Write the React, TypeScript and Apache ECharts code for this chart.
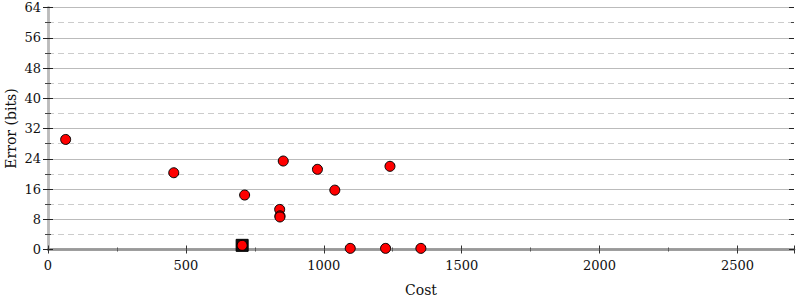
import React, { useEffect, useRef } from "react";
import * as echarts from "echarts";

const costs = [64, 456, 713, 853, 840, 841, 841, 977, 1040, 1240, 1096, 1224, 1352, 704];
const errors = [29.1, 20.3, 14.4, 23.4, 10.6, 8.9, 8.6, 21.2, 15.7, 22.0, 0.3, 0.3, 0.3, 1.1];
const selectedCost = [704];
const selectedError = [1.1];

const X_MAX = 2705;
const Y_MAX = 64;
const FONT = "'DejaVu Serif', serif";

export default function App() {
  const ref = useRef<HTMLDivElement>(null);
  useEffect(() => {
    if (!ref.current) return;
    const chart = echarts.init(ref.current, null, { renderer: "svg" });
    const points = costs.map((c, i) => [c, errors[i]]);
    const sel = selectedCost.map((c, i) => [c, selectedError[i]]);
    const yBase = (position: string, inside: boolean, main: boolean) => ({
      type: "value",
      position,
      min: 0,
      max: Y_MAX,
      interval: 8,
      axisLine: { show: main, lineStyle: { color: "#bbb", width: 2.5 } },
      axisTick: { show: true, inside, length: 5, lineStyle: { color: "#222", width: 1 } },
      minorTick: { show: true, splitNumber: 2, length: 3, lineStyle: { color: "#444", width: 1 } },
      axisLabel: main && position === "left"
        ? { show: true, color: "#111", fontFamily: FONT, fontSize: 13, margin: 7 }
        : { show: false },
      splitLine: main && position === "left"
        ? { show: true, lineStyle: { color: "#bbb", width: 1 } }
        : { show: false },
      minorSplitLine: main && position === "left"
        ? { show: true, lineStyle: { color: "#ccc", width: 1, type: [6, 4] } }
        : { show: false },
      name: main && position === "left" ? "Error (bits)" : "",
      nameLocation: "middle",
      nameGap: 30,
      nameMoveOverlap: false,
      nameTextStyle: { color: "#111", fontFamily: FONT, fontSize: 14 },
    });
    const xBase = (inside: boolean, main: boolean) => ({
      type: "value",
      position: "bottom",
      min: 0,
      max: X_MAX,
      interval: 500,
      axisLine: { show: main, lineStyle: { color: "#999", width: 2.5 } },
      axisTick: { show: true, inside, length: 4, lineStyle: { color: "#333", width: 1 } },
      minorTick: { show: true, splitNumber: 2, length: 2, lineStyle: { color: "#555", width: 1 } },
      axisLabel: main
        ? { show: true, color: "#111", fontFamily: FONT, fontSize: 13, margin: 9, showMaxLabel: false, formatter: (v: number) => String(v) }
        : { show: false },
      splitLine: { show: false },
      name: main ? "Cost" : "",
      nameLocation: "middle",
      nameGap: 33,
      nameMoveOverlap: false,
      nameTextStyle: { color: "#111", fontFamily: FONT, fontSize: 14 },
    });
    chart.setOption({
      animation: false,
      backgroundColor: "#fff",
      grid: { left: 48, right: 6, top: 7.5, bottom: 50.5, containLabel: false, outerBoundsMode: "none" },
      xAxis: [
        xBase(false, true),
        xBase(true, false),
        {
          type: "value",
          position: "top",
          min: 0,
          max: X_MAX,
          axisLine: { show: true, lineStyle: { color: "#999", width: 2.5 } },
          axisTick: { show: false },
          axisLabel: { show: false },
          splitLine: { show: false },
        },
      ],
      yAxis: [
        yBase("left", false, true),
        yBase("left", true, false),
        yBase("right", false, true),
        yBase("right", true, false),
      ],
      series: [
        {
          type: "scatter",
          data: sel,
          symbol: "rect",
          symbolSize: 12,
          itemStyle: { color: "#111", borderColor: "#000", borderWidth: 1, opacity: 1 },
          z: 3,
        },
        {
          type: "scatter",
          data: points,
          symbol: "circle",
          symbolSize: 10,
          itemStyle: { color: "#ff0000", borderColor: "#000", borderWidth: 1, opacity: 1 },
          z: 4,
        },
      ],
    });
    return () => chart.dispose();
  }, []);
  return <div ref={ref} style={{ width: 800, height: 300, position: "absolute", left: 0, top: 0 }} />;
}
